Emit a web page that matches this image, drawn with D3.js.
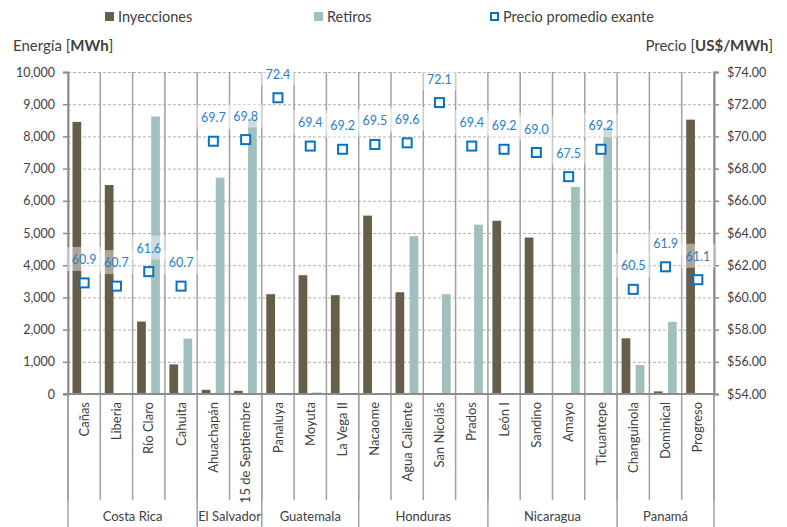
<!DOCTYPE html>
<html>
<head>
<meta charset="utf-8">
<script src="https://cdn.jsdelivr.net/npm/d3@7"></script>
<style>
  body { margin: 0; background: #fff; }
  text { font-family: Lato, "Open Sans", sans-serif; fill: #404040; }
</style>
</head>
<body>
<div id="box"></div>
<script>
'use strict';

var nodos = ["Cañas", "Liberia", "Río Claro", "Cahuita", "Ahuachapán", "15 de Septiembre",
  "Panaluya", "Moyuta", "La Vega II", "Nacaome", "Agua Caliente", "San Nicolás", "Prados",
  "León I", "Sandino", "Amayo", "Ticuantepe", "Changuinola", "Dominical", "Progreso"];
var inyecciones = [8450, 6490, 2250, 920, 130, 100, 3100, 3690, 3070, 5540, 3160, 0, 30,
  5380, 4860, 0, 0, 1730, 80, 8520];
var retiros = [0, 0, 8620, 1720, 6720, 8550, 0, 50, 30, 30, 4900, 3100, 5260,
  30, 0, 6430, 8280, 900, 2240, 0];
var precio = [60.9, 60.7, 61.6, 60.7, 69.7, 69.8, 72.4, 69.4, 69.2, 69.5, 69.6, 72.1, 69.4,
  69.2, 69.0, 67.5, 69.2, 60.5, 61.9, 61.1];
var paises = ["Costa Rica", "El Salvador", "Guatemala", "Honduras", "Nicaragua", "Panamá"];
var nodosPorPais = [4, 2, 3, 4, 4, 3];
var energiaTicks = [0, 1000, 2000, 3000, 4000, 5000, 6000, 7000, 8000, 9000, 10000];
var precioTicks = [54, 56, 58, 60, 62, 64, 66, 68, 70, 72, 74];

var width = 787, height = 527;
var margin = { top: 72, right: 73, bottom: 133, left: 68 };
var plotBottom = height - margin.bottom;
var plotRight = width - margin.right;
var colorIny = "#665e48", colorRet = "#a0c0bd", colorPrecio = "#0a70c4";

var svg = d3.select("#box")
  .append("svg")
    .attr("width", width)
    .attr("height", height);

var x0 = d3.scaleBand()
  .domain(nodos)
  .range([margin.left, plotRight])
  .padding(0);
var x1 = d3.scaleBand()
  .domain(["iny", "ret"])
  .range([4.5, x0.bandwidth() - 5])
  .paddingInner(0.38);
var y = d3.scaleLinear()
  .domain([0, 10000])
  .range([plotBottom, margin.top]);
var y2 = d3.scaleLinear()
  .domain([54, 74])
  .range([plotBottom, margin.top]);

// horizontal dashed grid
svg.append("g")
  .selectAll("line")
  .data(energiaTicks.slice(1))
  .join("line")
    .attr("x1", margin.left)
    .attr("x2", plotRight)
    .attr("y1", function(d) { return y(d) + 0.5; })
    .attr("y2", function(d) { return y(d) + 0.5; })
    .attr("stroke", "#b0b0b0")
    .attr("stroke-width", 1)
    .attr("stroke-dasharray", "3,2");

// vertical separators between nodes (plot + label area)
var fronteras = nodos.map(function(d) { return x0(d); }).concat([plotRight]);
svg.append("g")
  .selectAll("line")
  .data(fronteras)
  .join("line")
    .attr("x1", function(d) { return d; })
    .attr("x2", function(d) { return d; })
    .attr("y1", margin.top)
    .attr("y2", 500)
    .attr("stroke", "#a0a0a0")
    .attr("stroke-width", 1.5);

// country separators go to the bottom
var cortes = [0];
nodosPorPais.forEach(function(n) { cortes.push(cortes[cortes.length - 1] + n); });
svg.append("g")
  .selectAll("line")
  .data(cortes)
  .join("line")
    .attr("x1", function(i) { return i < nodos.length ? x0(nodos[i]) : plotRight; })
    .attr("x2", function(i) { return i < nodos.length ? x0(nodos[i]) : plotRight; })
    .attr("y1", plotBottom)
    .attr("y2", height)
    .attr("stroke", "#a0a0a0")
    .attr("stroke-width", 1.5);

// bars
var barras = svg.append("g")
  .selectAll("g")
  .data(nodos)
  .join("g")
    .attr("transform", function(d) { return "translate(" + x0(d) + ",0)"; });
barras.append("rect")
  .attr("x", x1("iny"))
  .attr("width", x1.bandwidth())
  .attr("y", function(d, i) { return y(inyecciones[i]); })
  .attr("height", function(d, i) { return plotBottom - y(inyecciones[i]); })
  .attr("fill", colorIny);
barras.append("rect")
  .attr("x", x1("ret"))
  .attr("width", x1.bandwidth())
  .attr("y", function(d, i) { return y(retiros[i]); })
  .attr("height", function(d, i) { return plotBottom - y(retiros[i]); })
  .attr("fill", colorRet);

// axes
var ejeY = svg.append("g")
  .attr("transform", "translate(" + margin.left + ",0)")
  .call(d3.axisLeft(y).tickValues(energiaTicks).tickFormat(d3.format(",")).tickSize(5).tickPadding(8));
var ejeY2 = svg.append("g")
  .attr("transform", "translate(" + plotRight + ",0)")
  .call(d3.axisRight(y2).tickValues(precioTicks).tickFormat(d3.format("$.2f")).tickSize(5).tickPadding(8));
[ejeY, ejeY2].forEach(function(g) {
  g.select(".domain").attr("stroke", "#8c8c8c").attr("stroke-width", 2);
  g.selectAll(".tick line").attr("stroke", "#8c8c8c").attr("stroke-width", 1.5);
  g.selectAll(".tick text").style("font-size", "12.5px").attr("fill", "#404040")
    .style("font-family", "Lato, sans-serif");
});
svg.append("line")
  .attr("x1", margin.left - 5).attr("x2", plotRight)
  .attr("y1", plotBottom).attr("y2", plotBottom)
  .attr("stroke", "#8c8c8c").attr("stroke-width", 2);

// node labels
svg.append("g")
  .selectAll("text")
  .data(nodos)
  .join("text")
    .attr("transform", function(d) {
      return "translate(" + (x0(d) + x0.bandwidth() / 2) + "," + (plotBottom + 8) + ") rotate(-90)";
    })
    .attr("dy", "0.35em")
    .style("text-anchor", "end")
    .style("font-size", "13px")
    .text(function(d) { return d; });

// country labels
svg.append("g")
  .selectAll("text")
  .data(paises)
  .join("text")
    .attr("x", function(d, i) {
      var a = x0(nodos[cortes[i]]);
      var b = cortes[i + 1] < nodos.length ? x0(nodos[cortes[i + 1]]) : plotRight;
      return (a + b) / 2;
    })
    .attr("y", 521)
    .style("text-anchor", "middle")
    .style("font-size", "13px")
    .text(function(d) { return d; });

// price markers
var sq = 9;
svg.append("g")
  .selectAll("rect")
  .data(precio)
  .join("rect")
    .attr("x", function(d, i) { return x0(nodos[i]) + x0.bandwidth() / 2 - sq / 2; })
    .attr("y", function(d) { return y2(d) - sq / 2; })
    .attr("width", sq)
    .attr("height", sq)
    .attr("fill", "#fff")
    .attr("stroke", colorPrecio)
    .attr("stroke-width", 2);

// label boxes (semi-transparent, like the original's data label fill)
svg.append("g")
  .selectAll("rect")
  .data(precio)
  .join("rect")
    .attr("x", function(d, i) { return x0(nodos[i]) + x0.bandwidth() / 2 - 17; })
    .attr("y", function(d) { return y2(d) - 36; })
    .attr("width", 34)
    .attr("height", 24)
    .attr("fill", "#fff")
    .attr("opacity", 0.45);
svg.append("g")
  .selectAll("text")
  .data(precio)
  .join("text")
    .attr("x", function(d, i) { return x0(nodos[i]) + x0.bandwidth() / 2; })
    .attr("y", function(d) { return y2(d) - 19; })
    .style("text-anchor", "middle")
    .style("font-size", "12.5px")
    .style("fill", "#2a7ec8")
    .text(function(d) { return d3.format(".1f")(d); });

// axis titles
var t1 = svg.append("text").attr("x", 13).attr("y", 51).style("font-size", "15px");
t1.append("tspan").text("Energía [");
t1.append("tspan").style("font-weight", "bold").text("MWh");
t1.append("tspan").text("]");
var t2 = svg.append("text").attr("x", 773).attr("y", 51).style("font-size", "15px").style("text-anchor", "end");
t2.append("tspan").text("Precio [");
t2.append("tspan").style("font-weight", "bold").text("US$/MWh");
t2.append("tspan").text("]");

// legend
var leyenda = [
  { label: "Inyecciones", x: 105, tipo: "iny" },
  { label: "Retiros", x: 314, tipo: "ret" },
  { label: "Precio promedio exante", x: 490, tipo: "precio" }
];
var lg = svg.append("g")
  .selectAll("g")
  .data(leyenda)
  .join("g")
    .attr("transform", function(d) { return "translate(" + d.x + ",12)"; });
lg.append("rect")
  .attr("x", function(d) { return d.tipo === "precio" ? 1 : 0; })
  .attr("y", function(d) { return d.tipo === "precio" ? 1 : 0; })
  .attr("width", function(d) { return d.tipo === "precio" ? 7 : 9; })
  .attr("height", function(d) { return d.tipo === "precio" ? 7 : 9; })
  .attr("fill", function(d) { return d.tipo === "iny" ? colorIny : d.tipo === "ret" ? colorRet : "#fff"; })
  .attr("stroke", function(d) { return d.tipo === "precio" ? colorPrecio : "none"; })
  .attr("stroke-width", 2);
lg.append("text")
  .attr("x", 13)
  .attr("y", 9.5)
  .style("font-size", "14.5px")
  .text(function(d) { return d.label; });
</script>
</body>
</html>
